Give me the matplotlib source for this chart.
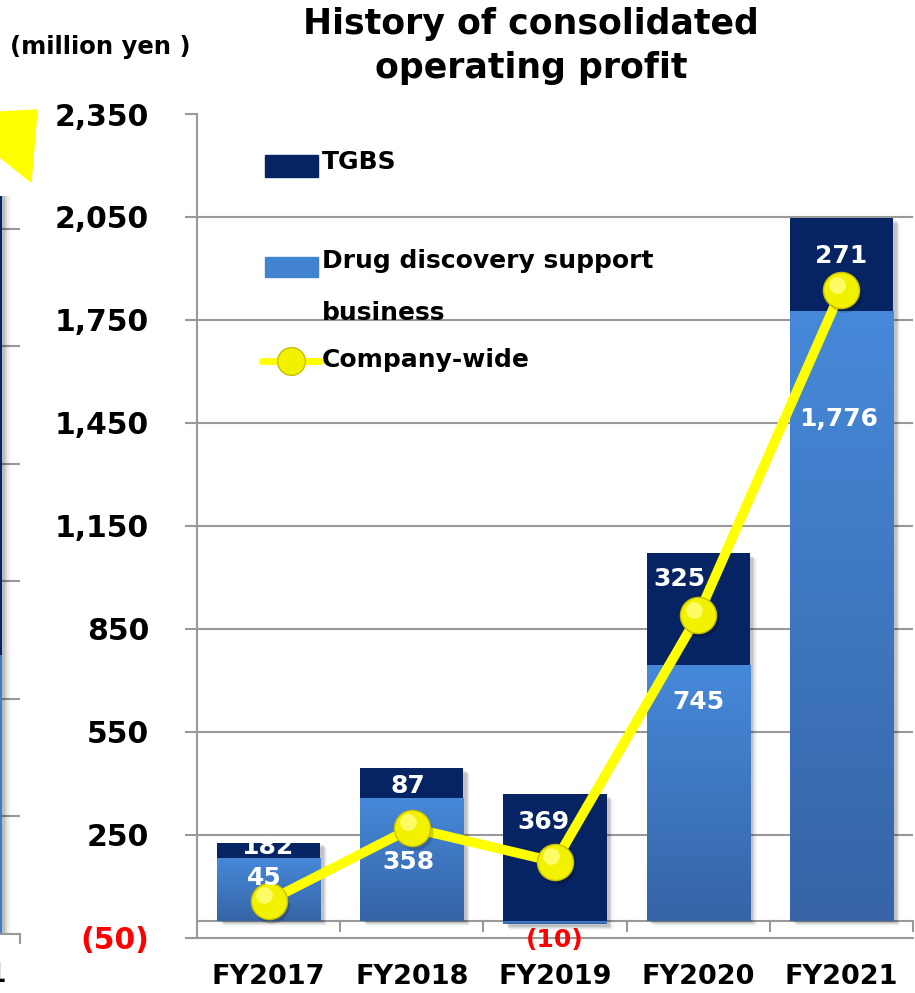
import matplotlib
matplotlib.use("Agg")
import matplotlib.pyplot as plt
import matplotlib.patches as mpatches
import matplotlib.transforms as mtransforms
import numpy as np

# data (million yen)
years = ['FY2017', 'FY2018', 'FY2019', 'FY2020', 'FY2021']
drug = [182, 358, -10, 745, 1776]
tgbs = [45, 87, 369, 325, 271]
company = [57, 270, 171, 890, 1837]

# value labels as printed on the chart
drug_labels = ['45', '358', '(10)', '745', '1,776']
tgbs_labels = ['182', '87', '369', '325', '271']

yticks = [-50, 250, 550, 850, 1150, 1450, 1750, 2050, 2350]

# cut-off piece of the neighbouring chart on the left
left_lower = 2.37
left_upper = 3.91

W, H = 915, 993
DARK = '#062463'
LIGHT_TOP = '#4689D9'
LIGHT_BOT = '#3664A6'
GRID = '#999999'
YEL = '#FFFF00'

fig = plt.figure(figsize=(W / 100, H / 100), dpi=100)


def fx(px):
    return px / W


def fy(py):
    return 1 - py / H


# ---------------- left fragment ----------------
ax0 = fig.add_axes([fx(-100), fy(934), 120 / W, (934 - 111) / H])
ax0.set_xlim(0, 120)
ax0.set_ylim(0, 7)
for g in range(1, 7):
    ax0.axhline(g, color=GRID, lw=1.5, zorder=0)
for k, a in enumerate([0.12, 0.08, 0.05, 0.03]):
    ax0.bar(51 + 3 + 2 * k, left_lower + left_upper, width=102, color='black',
            alpha=a, zorder=1)
ax0.bar(51, left_lower, width=102, color='#3F7CC8', zorder=2)
ax0.bar(51, left_upper, bottom=left_lower, width=102, color=DARK, zorder=2)
for s in ['left', 'top', 'right']:
    ax0.spines[s].set_visible(False)
ax0.spines['bottom'].set_color(GRID)
ax0.spines['bottom'].set_linewidth(1.5)
ax0.set_xticks([120])
ax0.set_xticklabels([])
ax0.tick_params(axis='x', length=7, width=1.5, color=GRID)
ax0.set_yticks([])
fig.text(fx(7), fy(975), 'FY2021', ha='right', va='center',
         fontsize=19.5, fontweight='bold')
arrow = mpatches.Polygon([(fx(0), fy(112)), (fx(37), fy(110)), (fx(31), fy(182)),
                          (fx(0), fy(157))], closed=True, color=YEL,
                         transform=fig.transFigure)
fig.patches.append(arrow)

# ---------------- main chart ----------------
ax = fig.add_axes([fx(197), fy(937.7), 716 / W, (937.7 - 114) / H])
x = np.arange(len(years))
ax.set_xlim(-0.5, 4.5)
ax.set_ylim(-50, 2350)

for t in yticks[1:-1]:
    ax.axhline(t, color=GRID, lw=1.5, zorder=0)
ax.axhline(0, color=GRID, lw=1.5, zorder=0.5)
for b in np.arange(0.5, 5, 1.0):
    ax.plot([b, b], [0, -30], color=GRID, lw=1.5, zorder=0.5, clip_on=False)

bw = 0.72
grad = np.linspace(0, 1, 256).reshape(-1, 1)
cmap = matplotlib.colors.LinearSegmentedColormap.from_list('g', [LIGHT_BOT, LIGHT_TOP])

for i in range(len(years)):
    lo = min(drug[i], 0)
    hi = max(drug[i], 0) + tgbs[i]
    # soft shadow
    for k, a in enumerate([0.10, 0.07, 0.05, 0.03]):
        ax.bar(x[i] + 0.025 + 0.008 * k, hi - lo, bottom=lo - 8 - 3 * k, width=bw,
               color='black', alpha=a, lw=0, zorder=1)
    # drug discovery support (gradient)
    rect = ax.bar(x[i], drug[i], width=bw, color=LIGHT_TOP, lw=0, zorder=2)[0]
    y0, y1 = sorted([0, drug[i]])
    im = ax.imshow(grad, extent=[x[i] - bw / 2, x[i] + bw / 2, y0, y1],
                   origin='lower', cmap=cmap, aspect='auto', zorder=2.1)
    im.set_clip_path(rect)
    # TGBS
    ax.bar(x[i], tgbs[i], bottom=max(drug[i], 0), width=bw, color=DARK, lw=0, zorder=3)

ax.set_xlim(-0.5, 4.5)
ax.set_ylim(-50, 2350)

# company-wide line
ax.plot(x, company, color=YEL, lw=7, zorder=5, solid_capstyle='round')
shadow = mtransforms.offset_copy(ax.transData, fig=fig, x=2, y=-3, units='points')
ax.plot(x, company, 'o', ms=26, color='black', alpha=0.18, mew=0, zorder=5.5,
        transform=shadow)
ax.plot(x, company, 'o', ms=26, mfc='#F2F200', mec='#C8BE00', mew=1, zorder=6)
hl = mtransforms.offset_copy(ax.transData, fig=fig, x=-3, y=4, units='points')
ax.plot(x, company, 'o', ms=12, mfc='#FFFF80', mew=0, alpha=0.8, zorder=6.5,
        transform=hl)

# value labels
tgbs_pos = [(-0.01, 214), (-0.03, 392), (-0.08, 287), (-0.13, 995), (0.0, 1936)]
drug_pos = [(-0.03, 124), (-0.02, 170), (0.0, -57), (0.0, 637), (-0.02, 1461)]
for i in range(len(years)):
    ax.text(x[i] + tgbs_pos[i][0], tgbs_pos[i][1], tgbs_labels[i], ha='center',
            va='center', color='white', fontsize=18, fontweight='bold', zorder=7)
    col = 'red' if drug[i] < 0 else 'white'
    ax.text(x[i] + drug_pos[i][0], drug_pos[i][1], drug_labels[i], ha='center',
            va='center', color=col, fontsize=18, fontweight='bold', zorder=7,
            clip_on=False)

# axes styling
for s in ['top', 'right']:
    ax.spines[s].set_visible(False)
for s in ['left', 'bottom']:
    ax.spines[s].set_color(GRID)
    ax.spines[s].set_linewidth(1.5)
ax.set_yticks(yticks)
ax.set_yticklabels(['(50)' if t < 0 else f'{t:,}' for t in yticks],
                   fontsize=21.5, fontweight='bold')
ax.get_yticklabels()[0].set_color('red')
ax.tick_params(axis='y', length=8.6, width=1.5, color=GRID, pad=26)
ax.set_xticks(x)
ax.set_xticklabels(years, fontsize=19.5, fontweight='bold')
ax.tick_params(axis='x', length=0, pad=19)

# legend drawn by hand
fig.patches.append(mpatches.Rectangle((fx(265), fy(177)), 53 / W, 22 / H, color=DARK,
                                      transform=fig.transFigure))
fig.patches.append(mpatches.Rectangle((fx(265), fy(277)), 53 / W, 20 / H, color='#4183D0',
                                      transform=fig.transFigure))
fig.add_artist(plt.Line2D([fx(262), fx(320)], [fy(361), fy(361)], color=YEL, lw=5,
                          transform=fig.transFigure, solid_capstyle='round'))
fig.add_artist(plt.Line2D([fx(291)], [fy(361)], marker='o', ms=20, mfc='#F2F200',
                          mec='#C8BE00', transform=fig.transFigure))
leg_font = dict(fontsize=18, fontweight='bold', va='center', ha='left')
fig.text(fx(322), fy(162), 'TGBS', **leg_font)
fig.text(fx(322), fy(261), 'Drug discovery support', **leg_font)
fig.text(fx(322), fy(313), 'business', **leg_font)
fig.text(fx(322), fy(360), 'Company-wide', **leg_font)

# titles
fig.text(fx(531), fy(46), 'History of consolidated\noperating profit', ha='center',
         va='center', fontsize=25, fontweight='bold', linespacing=1.38)
fig.text(fx(10), fy(47), '(million yen )', ha='left', va='center', fontsize=17.5,
         fontweight='bold')

fig.savefig('out.png', dpi=100)
